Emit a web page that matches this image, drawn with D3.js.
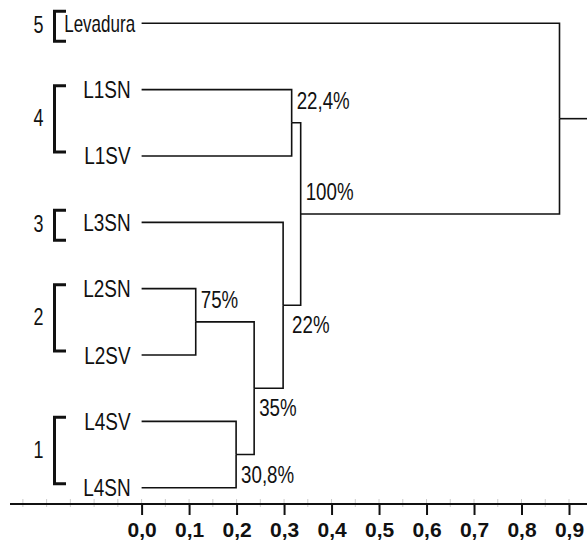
<!DOCTYPE html>
<html>
    <head>
        <meta charset="utf-8">
        <script src="https://cdn.jsdelivr.net/npm/d3@7"></script>
        <style>
            body { margin: 0; background: #fff; }
            text { font-family: "Liberation Sans", Arial, sans-serif; fill: #111; }
        </style>
    </head>
    <body>
        <div id="viz"></div>

        <script>
            // leaves, top to bottom
            const leafNames = ["Levadura", "L1SN", "L1SV", "L3SN", "L2SN", "L2SV", "L4SV", "L4SN"];

            // merges, linkage style: leaves are 0-7, merge i creates node 8+i
            const mergeLeft   = [4, 6, 8, 3, 1, 12, 0];
            const mergeRight  = [5, 7, 9, 10, 2, 11, 13];
            const mergeHeight = [0.114, 0.199, 0.237, 0.298, 0.316, 0.335, 0.88];
            const mergeLabels = ["75%", "30,8%", "35%", "22%", "22,4%", "100%", ""];

            // numbered groups with their leaves
            const groupNames = ["5", "4", "3", "2", "1"];
            const groupMembers = [["Levadura"], ["L1SN", "L1SV"], ["L3SN"], ["L2SN", "L2SV"], ["L4SV", "L4SN"]];

            const axisTicks = [0, 0.1, 0.2, 0.3, 0.4, 0.5, 0.6, 0.7, 0.8, 0.9];

            const width = 587, height = 542;

            const svg = d3.select("#viz")
                .append("svg")
                .attr("width", width)
                .attr("height", height);

            svg.append("rect").attr("width", width).attr("height", height).attr("fill", "#fff");

            const x = d3.scaleLinear().domain([0, 0.9]).range([141.6, 569]);
            const y = d3.scalePoint().domain(leafNames).range([23.3, 487.7]);

            // node positions
            const nodes = leafNames.map(n => ({x: x(0), y: y(n)}));
            mergeHeight.forEach((h, i) => {
                const a = nodes[mergeLeft[i]], b = nodes[mergeRight[i]];
                nodes.push({x: x(h), y: (a.y + b.y) / 2, a: a, b: b, label: mergeLabels[i]});
            });

            const line = d3.line();
            const links = svg.append("g")
                .attr("fill", "none")
                .attr("stroke", "#111")
                .attr("stroke-width", 1.6);

            nodes.filter(d => d.a).forEach(d => {
                [d.a, d.b].forEach(c => {
                    links.append("path")
                        .attr("d", line([[c.x, c.y], [d.x, c.y], [d.x, d.y]]));
                });
            });

            // stub out of the root
            const root = nodes[nodes.length - 1];
            links.append("path").attr("d", line([[root.x, root.y], [width, root.y]]));

            // similarity labels
            const below = new Set(["30,8%", "35%", "22%"]);
            svg.append("g")
                .selectAll("g")
                .data(nodes.filter(d => d.label))
                .join("g")
                .attr("transform", d => `translate(${d.x + (d.label == "22%" ? 9 : 5)},${below.has(d.label) ? d.y + 28 : d.y - 14}) scale(0.78,1)`)
                .append("text")
                .style("font-size", "24px")
                .text(d => d.label);

            // leaf labels
            svg.append("g")
                .selectAll("g")
                .data(leafNames)
                .join("g")
                .attr("transform", d => d == "Levadura"
                    ? `translate(${x(0) - 6.5},${y(d) + 8.5}) scale(0.74,1)`
                    : `translate(${x(0) - 11},${y(d) + 8.5}) scale(0.79,1)`)
                .append("text")
                .attr("text-anchor", "end")
                .style("font-size", d => d == "Levadura" ? "23px" : "24px")
                .text(d => d);

            // group brackets and numbers
            const groups = svg.append("g");
            groupNames.forEach((g, i) => {
                const m = groupMembers[i];
                const top = m.length > 1 ? y(m[0]) - 4 : y(m[0]) - 12;
                const bot = m.length > 1 ? y(m[m.length - 1]) - 4 : y(m[0]) + 18;
                groups.append("path")
                    .attr("d", line([[66, top], [54.5, top], [54.5, bot], [66, bot]]))
                    .attr("fill", "none")
                    .attr("stroke", "#111")
                    .attr("stroke-width", 3);
                groups.append("g")
                    .attr("transform", `translate(43.5,${(top + bot) / 2 + 7}) scale(0.78,1)`)
                    .append("text")
                    .attr("text-anchor", "end")
                    .style("font-size", "23px")
                    .text(g);
            });

            // axis
            const axisY = 504;
            const fmt = d3.formatLocale({decimal: ",", thousands: ".", grouping: [3], currency: ["", ""]}).format(".1f");

            const minor = d3.range(-0.25, 0.96, 0.05).filter(v => x(v) > 12);
            svg.append("g")
                .selectAll("line")
                .data(minor)
                .join("line")
                .attr("x1", d => x(d)).attr("x2", d => x(d))
                .attr("y1", axisY - 5).attr("y2", axisY + 3)
                .attr("stroke", "#ccc")
                .attr("stroke-width", 1);

            svg.append("line")
                .attr("x1", 10).attr("x2", width)
                .attr("y1", axisY).attr("y2", axisY)
                .attr("stroke", "#111")
                .attr("stroke-width", 2);

            const axis = svg.append("g")
                .attr("transform", `translate(0,${axisY})`)
                .call(d3.axisBottom(x).tickValues(axisTicks).tickFormat(fmt).tickSize(11));

            axis.select(".domain").remove();
            axis.selectAll(".tick line").attr("stroke", "#111").attr("stroke-width", 2);
            axis.selectAll(".tick text")
                .attr("y", 33)
                .attr("dy", 0)
                .attr("fill", "#111")
                .style("font-family", "'Liberation Sans', Arial, sans-serif")
                .style("font-size", "21px")
                .style("font-weight", "bold");
        </script>
    </body>
</html>
